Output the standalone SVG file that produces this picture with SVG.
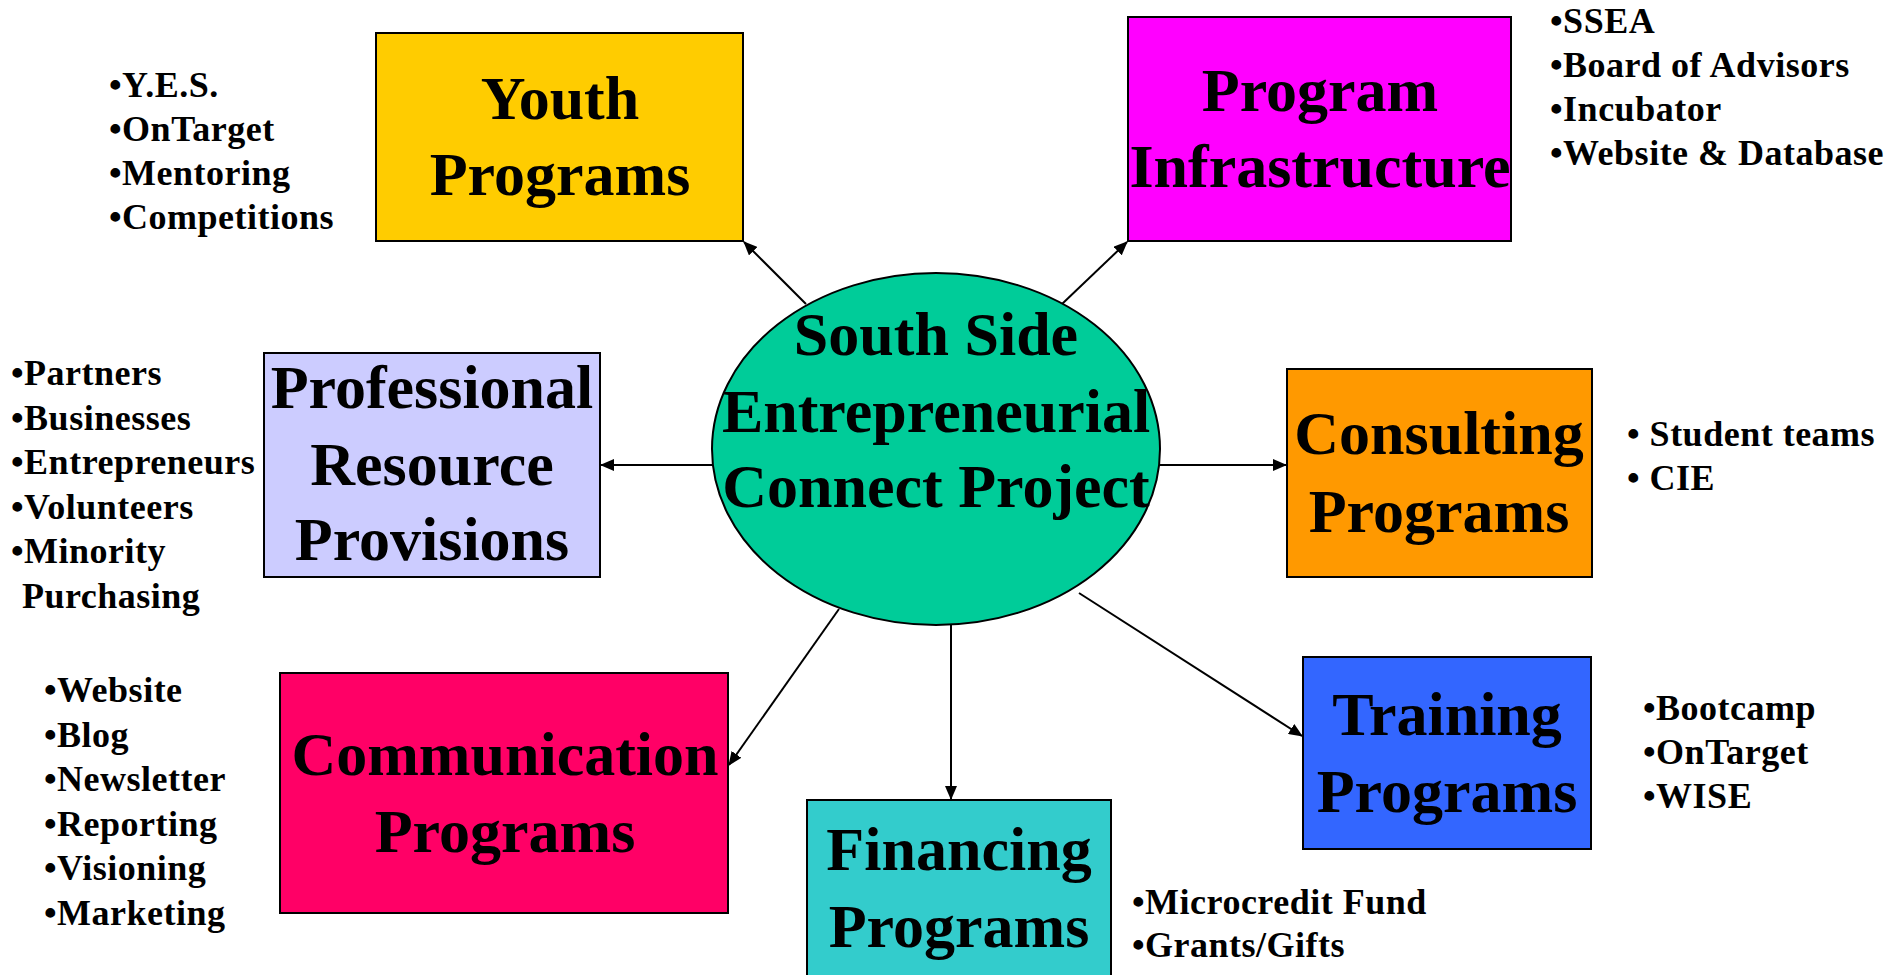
<svg xmlns="http://www.w3.org/2000/svg" width="1893" height="975" viewBox="0 0 1893 975">
<style>
.box{stroke:#000;stroke-width:2}
.title{font-family:"Liberation Serif","Times New Roman",serif;font-weight:bold;font-size:62px;fill:#000;text-anchor:middle}
.bul{font-family:"Liberation Serif","Times New Roman",serif;font-weight:bold;font-size:36px;letter-spacing:0.5px;fill:#000}
.conn{stroke:#000;stroke-width:2;fill:none;marker-end:url(#arr)}
</style>
<defs>
<marker id="arr" markerUnits="userSpaceOnUse" markerWidth="14" markerHeight="12" refX="13" refY="6" orient="auto">
<path d="M0,0 L14,6 L0,12 z" fill="#000"/>
</marker>
</defs>
<rect width="1893" height="975" fill="#fff"/>
<g id="connectors">
<line class="conn" x1="806" y1="304" x2="744" y2="242"/>
<line class="conn" x1="1062" y1="304" x2="1127" y2="242"/>
<line class="conn" x1="712" y1="465" x2="601" y2="465"/>
<line class="conn" x1="1160" y1="465" x2="1286" y2="465"/>
<line class="conn" x1="839" y1="609" x2="729" y2="765"/>
<line class="conn" x1="951" y1="625" x2="951" y2="799"/>
<line class="conn" x1="1079" y1="593" x2="1302" y2="736"/>
</g>
<g id="center">
<ellipse cx="936" cy="449" rx="224" ry="176" fill="#00CC99" stroke="#000" stroke-width="2"/>
<text class="title" x="936" y="355">South Side</text>
<text class="title" x="936" y="432">Entrepreneurial</text>
<text class="title" x="936" y="507">Connect Project</text>
</g>
<g id="youth">
<rect class="box" x="376" y="33" width="367" height="208" fill="#FFCC00"/>
<text class="title" x="560" y="119">Youth</text>
<text class="title" x="560" y="195">Programs</text>
<text class="bul" x="109" y="97">•Y.E.S.</text>
<text class="bul" x="109" y="141">•OnTarget</text>
<text class="bul" x="109" y="185">•Mentoring</text>
<text class="bul" x="109" y="229">•Competitions</text>
</g>
<g id="infrastructure">
<rect class="box" x="1128" y="17" width="383" height="224" fill="#FF00FF"/>
<text class="title" x="1320" y="111">Program</text>
<text class="title" x="1320" y="187">Infrastructure</text>
<text class="bul" x="1550" y="33">•SSEA</text>
<text class="bul" x="1550" y="77">•Board of Advisors</text>
<text class="bul" x="1550" y="121">•Incubator</text>
<text class="bul" x="1550" y="165">•Website &amp; Database</text>
</g>
<g id="professional">
<rect class="box" x="264" y="353" width="336" height="224" fill="#CCCCFF"/>
<text class="title" x="432" y="408">Professional</text>
<text class="title" x="432" y="485">Resource</text>
<text class="title" x="432" y="560">Provisions</text>
<text class="bul" x="11" y="385">•Partners</text>
<text class="bul" x="11" y="430">•Businesses</text>
<text class="bul" x="11" y="474">•Entrepreneurs</text>
<text class="bul" x="11" y="519">•Volunteers</text>
<text class="bul" x="11" y="563">•Minority</text>
<text class="bul" x="22" y="608">Purchasing</text>
</g>
<g id="consulting">
<rect class="box" x="1287" y="369" width="305" height="208" fill="#FF9900"/>
<text class="title" x="1439" y="454">Consulting</text>
<text class="title" x="1439" y="532">Programs</text>
<text class="bul" x="1627" y="446">• Student teams</text>
<text class="bul" x="1627" y="490">• CIE</text>
</g>
<g id="communication">
<rect class="box" x="280" y="673" width="448" height="240" fill="#FF0066"/>
<text class="title" x="505" y="775">Communication</text>
<text class="title" x="505" y="852">Programs</text>
<text class="bul" x="44" y="702">•Website</text>
<text class="bul" x="44" y="747">•Blog</text>
<text class="bul" x="44" y="791">•Newsletter</text>
<text class="bul" x="44" y="836">•Reporting</text>
<text class="bul" x="44" y="880">•Visioning</text>
<text class="bul" x="44" y="925">•Marketing</text>
</g>
<g id="financing">
<rect class="box" x="807" y="800" width="304" height="190" fill="#33CCCC"/>
<text class="title" x="959" y="870">Financing</text>
<text class="title" x="959" y="947">Programs</text>
<text class="bul" x="1132" y="914">•Microcredit Fund</text>
<text class="bul" x="1132" y="957">•Grants/Gifts</text>
</g>
<g id="training">
<rect class="box" x="1303" y="657" width="288" height="192" fill="#3366FF"/>
<text class="title" x="1447" y="735">Training</text>
<text class="title" x="1447" y="812">Programs</text>
<text class="bul" x="1643" y="720">•Bootcamp</text>
<text class="bul" x="1643" y="764">•OnTarget</text>
<text class="bul" x="1643" y="808">•WISE</text>
</g>
</svg>
